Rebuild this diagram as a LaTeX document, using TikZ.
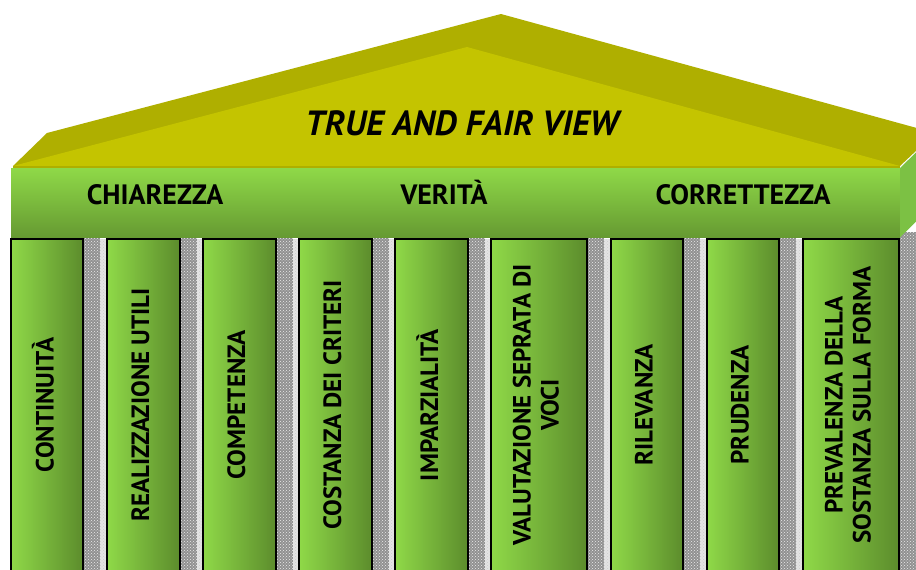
\documentclass[tikz,border=0pt]{standalone}
\usepackage{fontspec}
\setmainfont{PT Sans}
\usepackage{graphicx}
\usetikzlibrary{patterns}

\definecolor{roofdark}{RGB}{175,175,0}
\definecolor{rooflight}{RGB}{196,196,0}
\definecolor{greenlight}{RGB}{143,217,72}
\definecolor{greendark}{RGB}{92,140,44}
\definecolor{friezebot}{RGB}{102,154,50}
\definecolor{sideface}{RGB}{124,193,68}
\definecolor{shadowgray}{RGB}{145,145,145}
\definecolor{shadowlight}{RGB}{228,228,228}

\tikzset{
  pillar/.style={draw=black, line width=1.5pt, left color=greenlight,
    right color=greendark, minimum height=332pt, inner sep=0pt,
    align=center, text=black, font=\bfseries\fontsize{25}{28}\selectfont},
  frieze/.style={top color=greenlight, bottom color=friezebot,
    minimum width=889pt, minimum height=69pt, inner sep=0pt},
  friezelabel/.style={anchor=base, text=black,
    font=\bfseries\fontsize{28}{30}\selectfont},
  titlelabel/.style={anchor=base, text=black,
    font=\bfseries\itshape\fontsize{35}{38}\selectfont},
  shadowtex/.style={fill=shadowgray, postaction={pattern=crosshatch dots, pattern color=white!85!gray}},
  shadowedge/.style={fill=shadowlight, postaction={pattern=crosshatch dots, pattern color=gray!40}}
}

\begin{document}
\begin{tikzpicture}[x=1pt,y=-1pt]
\clip (0,0) rectangle (916,570);
\fill[white] (0,0) rectangle (916,570);

% roof: sloping top faces, then the front gable
\fill[roofdark] (13,166) -- (47,133) -- (501,14) -- (935,133) -- (900,166) -- cycle;
\fill[rooflight] (13,166) -- (467,47) -- (900,166) -- cycle;
\draw[roofdark, line width=2pt] (13,167) -- (900,167);
\node[titlelabel] (title) at (462,135) {TRUE AND FAIR VIEW};

% column shadows
\foreach \l/\r in {11/83, 107/180, 203/276, 299/372, 395/468, 491/587, 611/683, 707/779, 803/899}{
  \fill[shadowtex] (\l+32,232) rectangle (\r+17,572);
  \fill[shadowedge] (\r+17,239) rectangle (\r+24,572);
}

% frieze with its side face
\node[frieze] (frieze) at (455.5,202.5) {};
\fill[sideface] (frieze.north east) -- ++(34,-33) -- ++(0,69) -- (frieze.south east) -- cycle;
\node[friezelabel] (chiarezza) at (155,204) {CHIAREZZA};
\node[friezelabel] (verita) at (444,204) {VERITÀ};
\node[friezelabel] (correttezza) at (743,204) {CORRETTEZZA};

% columns
\foreach \i/\cx/\w/\txt in {
  1/47/72/{CONTINUITÀ},
  2/143.5/73/{REALIZZAZIONE UTILI},
  3/239.5/73/{COMPETENZA},
  4/335.5/73/{COSTANZA DEI CRITERI},
  5/431.5/73/{IMPARZIALITÀ},
  6/539/96/{VALUTAZIONE SEPRATA DI\\VOCI},
  7/647/72/{RILEVANZA},
  8/743/72/{PRUDENZA},
  9/851/96/{PREVALENZA DELLA\\SOSTANZA SULLA FORMA}}{
  \node[pillar, minimum width=\w pt] (col\i) at (\cx,405)
    {\rotatebox{90}{\begin{tabular}{@{}c@{}}\txt\end{tabular}}};
}
\end{tikzpicture}
\end{document}
